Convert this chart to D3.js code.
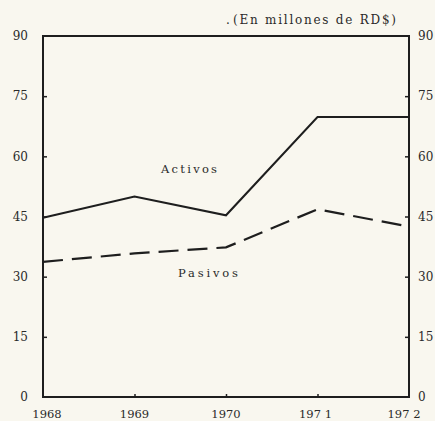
<!DOCTYPE html>
<html>
<head>
<meta charset="utf-8">
<script src="https://cdn.jsdelivr.net/npm/d3@7"></script>
<style>
html,body{margin:0;padding:0;background:#f9f7ef;}
svg{display:block;}
text{font-family:"DejaVu Serif","Liberation Serif",serif;fill:#2a2a2a;}
</style>
</head>
<body>
<svg id="chart" width="435" height="421"></svg>
<script>
const years = [1968, 1969, 1970, 1971, 1972];
const activos = [44.7, 50, 45.3, 69.8, 69.8];
const pasivos = [33.7, 35.8, 37.3, 46.8, 42.5];
const yTicks = [0, 15, 30, 45, 60, 75, 90];
const yearLabels = ["1968", "1969", "1970", "197 1", "197 2"];
const unitLabel = "(En millones de RD$)";
const seriesLabels = ["Activos", "Pasivos"];

(function () {
const svg = d3.select("#chart");
const mLeft = 43, mRight = 409, mTop = 36, mBottom = 397;

const x = d3.scaleLinear().domain([1968, 1972]).range([mLeft, mRight]);
const y = d3.scaleLinear().domain([0, 90]).range([mBottom, mTop]);

const ink = "#1e1e1e";

svg.append("rect")
  .attr("x", mLeft).attr("y", mTop)
  .attr("width", mRight - mLeft).attr("height", mBottom - mTop)
  .attr("fill", "none").attr("stroke", ink).attr("stroke-width", 2);

const yl = svg.append("g").attr("transform", `translate(${mLeft},0)`)
  .call(d3.axisRight(y).tickValues(yTicks.slice(1, -1)).tickSize(4).tickFormat(""));
yl.select(".domain").remove();
yl.selectAll("line").attr("stroke", ink).attr("stroke-width", 1.5);

const yr = svg.append("g").attr("transform", `translate(${mRight},0)`)
  .call(d3.axisLeft(y).tickValues(yTicks.slice(1, -1)).tickSize(4).tickFormat(""));
yr.select(".domain").remove();
yr.selectAll("line").attr("stroke", ink).attr("stroke-width", 1.5);

const xb = svg.append("g").attr("transform", `translate(0,${mBottom})`)
  .call(d3.axisTop(x).tickValues(years.slice(1, -1)).tickSize(3).tickFormat(""));
xb.select(".domain").remove();
xb.selectAll("line").attr("stroke", ink).attr("stroke-width", 1.5);

svg.append("g").selectAll("text").data(yTicks).join("text")
  .attr("x", 28).attr("y", d => y(d)).attr("dy", "0.35em")
  .attr("text-anchor", "end").attr("font-size", 12).text(d => d);
svg.append("g").selectAll("text").data(yTicks).join("text")
  .attr("x", 418).attr("y", d => y(d)).attr("dy", "0.35em")
  .attr("text-anchor", "start").attr("font-size", 12).text(d => d);

const yearNudge = [4, 0, 0, -2, -5];
svg.append("g").selectAll("text").data(years).join("text")
  .attr("x", (d, i) => x(d) + yearNudge[i]).attr("y", 418)
  .attr("text-anchor", "middle").attr("font-size", 11.5)
  .text((d, i) => yearLabels[i]);

svg.append("text").attr("x", 226).attr("y", 24).attr("font-size", 12).text(".");
svg.append("text").attr("x", 233).attr("y", 24).attr("font-size", 12)
  .attr("textLength", 163).attr("lengthAdjust", "spacing").text(unitLabel);

const line = d3.line().x((d, i) => x(years[i])).y(d => y(d));
svg.append("path").datum(activos).attr("d", line)
  .attr("fill", "none").attr("stroke", ink).attr("stroke-width", 2)
  .attr("stroke-linejoin", "miter");
svg.append("path").datum(pasivos).attr("d", line)
  .attr("fill", "none").attr("stroke", ink).attr("stroke-width", 2.2)
  .attr("stroke-dasharray", "20,9");

svg.append("text").attr("x", 161).attr("y", 173).attr("font-size", 11.5)
  .attr("textLength", 56).attr("lengthAdjust", "spacing").text(seriesLabels[0]);
svg.append("text").attr("x", 178).attr("y", 277).attr("font-size", 11.5)
  .attr("textLength", 60).attr("lengthAdjust", "spacing").text(seriesLabels[1]);
})();
</script>
</body>
</html>
